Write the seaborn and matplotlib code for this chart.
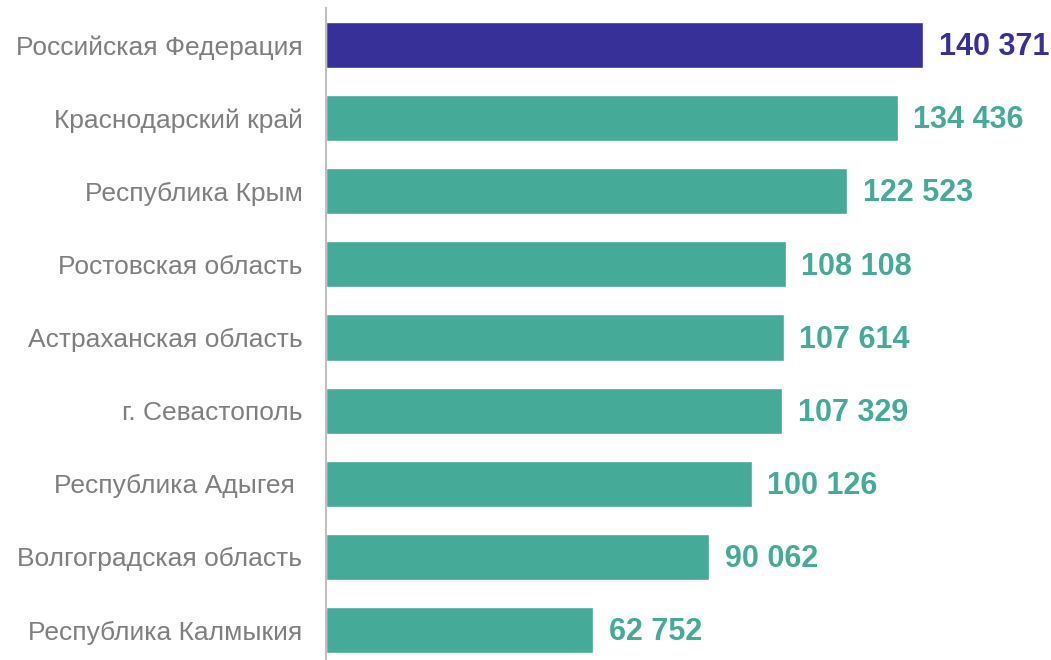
import numpy as np
import pandas as pd
import matplotlib
matplotlib.use("Agg")
import matplotlib.pyplot as plt
import seaborn as sns

regions = [
    "Российская Федерация",
    "Краснодарский край",
    "Республика Крым",
    "Ростовская область",
    "Астраханская область",
    "г. Севастополь",
    "Республика Адыгея ",
    "Волгоградская область",
    "Республика Калмыкия",
]
values = [140371, 134436, 122523, 108108, 107614, 107329, 100126, 90062, 62752]
groups = ["rf"] + ["reg"] * 8
palette = {"rf": "#373098", "reg": "#45aa97"}

df = pd.DataFrame({"region": regions, "value": values, "group": groups})

sns.set_theme(style="white")
plt.rcParams["font.family"] = ["Liberation Sans", "DejaVu Sans"]

fig = plt.figure(figsize=(10.51, 6.6), dpi=100)
ax = fig.add_axes([326 / 1051, 0.0, 1 - 326 / 1051, 652 / 660])

sns.barplot(data=df, x="value", y="region", hue="group", palette=palette,
            dodge=False, width=0.63, legend=False, ax=ax, saturation=1)

# value labels right of each bar
for i, (v, g) in enumerate(zip(values, groups)):
    txt = f"{v:,}".replace(",", " ")
    ax.text(v + 3700, i + 0.03, txt, va="center", ha="left", fontsize=22,
            fontweight="bold", color=palette[g])

ax.set_xlim(0, 170500)
ax.set_ylim(8.41, -0.506)
ax.set_xlabel("")
ax.set_ylabel("")
ax.set_xticks([])
ax.tick_params(axis="y", length=0, pad=17, labelsize=19, labelcolor="#7f7f7f")
for s in ["top", "right", "bottom"]:
    ax.spines[s].set_visible(False)
ax.spines["left"].set_color("#bfbfbf")
ax.spines["left"].set_linewidth(1.5)

fig.savefig("out.png", dpi=100)
